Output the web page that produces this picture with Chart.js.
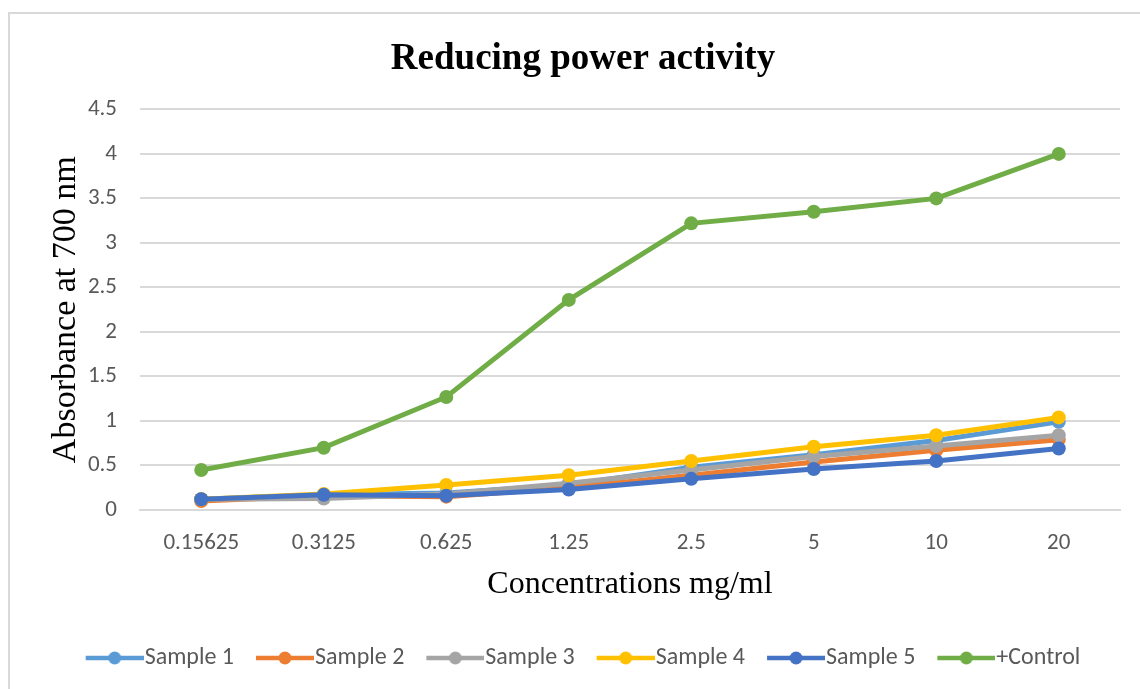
<!DOCTYPE html>
<html>
<head>
<meta charset="utf-8">
<script src="https://cdn.jsdelivr.net/npm/chart.js@4.4.1/dist/chart.umd.min.js"></script>
<style>
  html, body { margin: 0; padding: 0; background: #fff; }
  #wrap { position: relative; width: 1140px; height: 689px; overflow: hidden; }
  #frame { position: absolute; left: 8px; top: 12px; width: 1200px; height: 700px;
           border-left: 2px solid #d9d9d9; border-top: 2px solid #d9d9d9; box-sizing: border-box; }
  canvas { position: absolute; left: 0; top: 0; }
</style>
</head>
<body>
<div id="wrap">
  <div id="frame"></div>
  <canvas id="powerChart" width="1140" height="689"></canvas>
</div>
<script>
// concentrations (mg/ml) and absorbance readings at 700 nm
const concentrations = ["0.15625", "0.3125", "0.625", "1.25", "2.5", "5", "10", "20"];
const sample1 = [0.12, 0.17, 0.19, 0.28, 0.48, 0.62, 0.78, 0.99];
const sample2 = [0.10, 0.16, 0.15, 0.25, 0.39, 0.54, 0.67, 0.79];
const sample3 = [0.12, 0.13, 0.18, 0.30, 0.45, 0.60, 0.72, 0.84];
const sample4 = [0.12, 0.18, 0.28, 0.39, 0.55, 0.71, 0.84, 1.04];
const sample5 = [0.12, 0.17, 0.16, 0.23, 0.35, 0.46, 0.55, 0.69];
const control = [0.45, 0.70, 1.27, 2.36, 3.22, 3.35, 3.50, 4.00];

const seriesNames = ["Sample 1", "Sample 2", "Sample 3", "Sample 4", "Sample 5", "+Control"];
const seriesData = [sample1, sample2, sample3, sample4, sample5, control];
const colors = ["#5b9bd5", "#ed7d31", "#a5a5a5", "#ffc000", "#4472c4", "#70ad47"];

const sans = "Carlito, Lato, sans-serif";
const serif = "'Liberation Serif', 'Times New Roman', serif";

// legend marker: short line with a dot in the middle.
// left 11px kept empty so the marker sits right against its label
function legendMarker(color) {
  const c = document.createElement("canvas");
  c.width = 69; c.height = 16;
  const g = c.getContext("2d");
  g.strokeStyle = color;
  g.lineWidth = 4.5;
  g.beginPath(); g.moveTo(11, 8); g.lineTo(69, 8); g.stroke();
  g.fillStyle = color;
  g.beginPath(); g.arc(40, 8, 6.5, 0, Math.PI * 2); g.fill();
  return c;
}

const datasets = seriesNames.map((name, i) => ({
  label: name,
  data: seriesData[i],
  borderColor: colors[i],
  backgroundColor: colors[i],
  borderWidth: 5,
  pointRadius: 7,
  pointHoverRadius: 7,
  pointBorderWidth: 0,
  pointStyle: "circle",
  tension: 0,
  order: seriesNames.length - i,
  marker: legendMarker(colors[i])
}));

new Chart(document.getElementById("powerChart"), {
  type: "line",
  data: { labels: concentrations, datasets: datasets },
  options: {
    responsive: false,
    animation: false,
    layout: { padding: { left: 46, right: 20, top: 0, bottom: 9 } },
    scales: {
      x: {
        offset: true,
        grid: { display: false, drawTicks: false },
        border: { display: true, color: "#d9d9d9", width: 2 },
        ticks: { color: "#595959", font: { family: sans, size: 23 }, padding: 19 },
        title: {
          display: true, text: "Concentrations mg/ml", color: "#000",
          font: { family: serif, size: 32 }, padding: { top: -10, bottom: 20 }
        }
      },
      y: {
        min: 0, max: 4.5,
        grid: { color: "#d9d9d9", lineWidth: 2, drawTicks: false },
        border: { display: false },
        ticks: {
          stepSize: 0.5, color: "#595959", font: { family: sans, size: 23 }, padding: 23,
          callback: v => String(v)
        },
        afterFit: s => { s.width = 94; },
        title: {
          display: true, text: "Absorbance at 700 nm", color: "#000",
          font: { family: serif, size: 34 }, padding: 0
        }
      }
    },
    plugins: {
      title: {
        display: true, text: "Reducing power activity", color: "#000",
        font: { family: serif, size: 37, weight: "bold" },
        padding: { top: 37, bottom: 28 }
      },
      legend: {
        position: "bottom",
        labels: {
          usePointStyle: true,
          pointStyleWidth: 47,
          color: "#595959",
          font: { family: sans, size: 24 },
          padding: 22,
          generateLabels: chart => chart.data.datasets.map((d, i) => ({
            text: d.label,
            pointStyle: d.marker,
            fontColor: "#595959",
            fillStyle: d.borderColor,
            strokeStyle: d.borderColor,
            lineWidth: 0,
            datasetIndex: i
          }))
        }
      },
      tooltip: { enabled: false }
    }
  }
});
</script>
</body>
</html>
